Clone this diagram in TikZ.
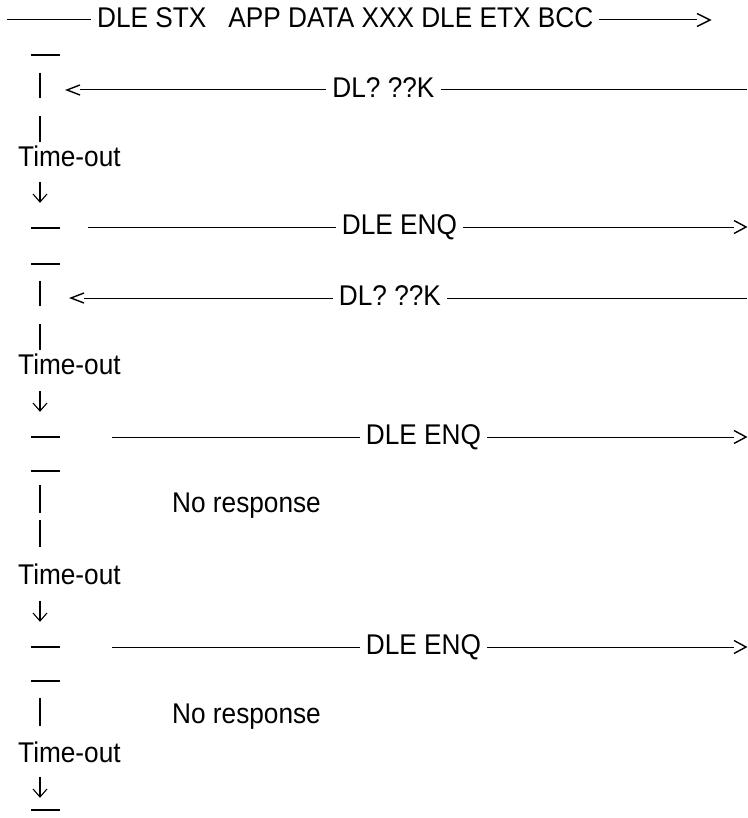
\documentclass[tikz,border=0pt]{standalone}
\usepackage{fontspec}
\setmainfont[FakeStretch=0.92]{Liberation Sans}
\begin{document}
\begin{tikzpicture}[x=1pt,y=-1pt,
  lbl/.style={inner xsep=6pt, inner ysep=0pt, text height=20.4pt, text depth=0pt, font=\fontsize{28.5}{32}\selectfont},
  ln/.style={line width=1pt},
  bar/.style={line width=1.8pt},
  dsh/.style={line width=1.5pt},
  chev/.style={line width=1.4pt, line join=miter},
  darr/.style={line width=1.1pt}]
\useasboundingbox (0,0) rectangle (747,818);

% short dashes
\foreach \y [count=\i] in {55,228,264,437,471,647,681,810}
  \draw[dsh] (31,\y) coordinate (dl\i) -- (60,\y) coordinate (dr\i);
% vertical bars
\foreach \t/\b [count=\i] in {73/98,116/142,281/306,324/350,485/513,520/547,698/726}
  \draw[bar] (40,\t) coordinate (bt\i) -- (40,\b) coordinate (bb\i);
% time-outs and down arrows
\foreach \y/\z [count=\i] in {156/182,364/391,574/601,752/777}{
  \node[lbl, anchor=west, inner xsep=0pt] (to\i) at (18,\y) {Time-out};
  \coordinate (dat\i) at (40,\z);
  \coordinate (dab\i) at (40,\z+20);
  \draw[darr] (dat\i) -- (dab\i);
  \draw[darr] ([xshift=-7pt,yshift=8pt]dab\i) -- (dab\i) -- ([xshift=7pt,yshift=8pt]dab\i);
}

% row 1
\coordinate (a1) at (7,20);
\node[lbl, anchor=west] (t1) at (91,17) {DLE STX\hspace{22pt}APP DATA XXX DLE ETX BCC};
\coordinate (h1) at (697,20);
\draw[ln] (a1) -- (t1.west |- a1);
\draw[ln] (t1.east |- a1) -- (h1);
\draw[chev] ([yshift=6.5pt]h1) -- ([xshift=13pt]h1) -- ([yshift=-6.5pt]h1);

% DL? ??K rows
\foreach \y/\l/\c [count=\i] in {90/80/383.5, 298/84/390}{
  \coordinate (lt\i) at (\l,\y);
  \node[lbl] (k\i) at (\c,\y-3) {DL? ??K};
  \coordinate (e\i) at (747,\y);
  \draw[chev] ([yshift=5pt]lt\i) -- ([xshift=-13pt]lt\i) -- ([yshift=-5pt]lt\i);
  \draw[ln] (lt\i) -- (k\i.west |- lt\i);
  \draw[ln] (k\i.east |- lt\i) -- (e\i);
}

% DLE ENQ rows
\foreach \y/\s/\c [count=\i] in {227/88/399.5, 437/112/423.5, 647/112/423.5}{
  \coordinate (s\i) at (\s,\y);
  \node[lbl] (q\i) at (\c,\y-3) {DLE ENQ};
  \coordinate (g\i) at (734,\y);
  \draw[ln] (s\i) -- (q\i.west |- s\i);
  \draw[ln] (q\i.east |- s\i) -- (g\i);
  \draw[chev] ([yshift=6.5pt]g\i) -- ([xshift=12pt]g\i) -- ([yshift=-6.5pt]g\i);
}

% no response
\node[lbl, anchor=west, inner xsep=0pt] (n1) at (172,502) {No response};
\node[lbl, anchor=west, inner xsep=0pt] (n2) at (172,713) {No response};
\end{tikzpicture}
\end{document}
